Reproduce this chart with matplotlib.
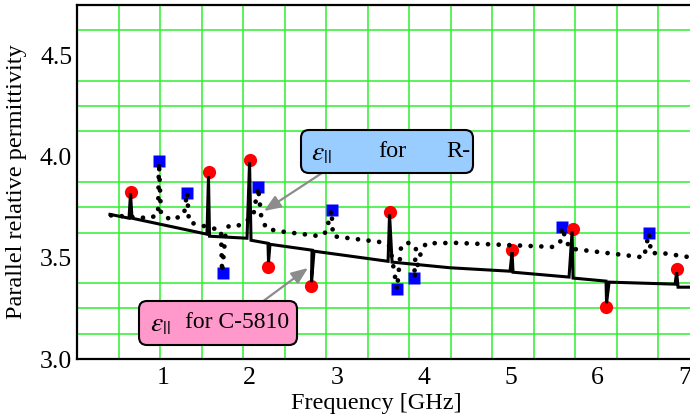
import numpy as np
import matplotlib
matplotlib.use("Agg")
import matplotlib.pyplot as plt
from matplotlib.patches import FancyBboxPatch, FancyArrowPatch
from matplotlib.transforms import IdentityTransform

plt.rcParams['font.family'] = ['Liberation Serif', 'DejaVu Serif']
plt.rcParams['mathtext.fontset'] = 'stix'

# ---------------- data ----------------
# measured C-5810 points (red circles)
c5810_f = [0.63, 1.532, 1.998, 2.21, 2.705, 3.607, 5.015, 5.716, 6.095, 6.906]
c5810_e = [3.824, 3.923, 3.982, 3.454, 3.36, 3.725, 3.538, 3.641, 3.257, 3.444]

# measured R- points (blue squares)
r_f = [0.957, 1.275, 1.697, 2.092, 2.943, 3.697, 3.892, 5.586, 6.586]
r_e = [3.978, 3.822, 3.426, 3.850, 3.739, 3.344, 3.401, 3.653, 3.625]

# model curve for C-5810 (solid)
model_c_f = [0.394, 0.613, 0.630, 0.647, 1.509, 1.526, 1.538, 1.969, 1.998, 2.015,
             2.210, 2.216, 2.233, 2.716, 2.710, 2.739, 3.590, 3.607, 3.636, 4.302,
             4.992, 5.015, 5.026, 5.670, 5.705, 5.716, 6.095, 6.101, 6.130, 6.889,
             6.906, 6.923, 7.061]
model_c_e = [3.715, 3.696, 3.819, 3.696, 3.617, 3.903, 3.607, 3.597, 3.972, 3.587,
             3.572, 3.479, 3.567, 3.538, 3.380, 3.533, 3.483, 3.715, 3.479, 3.451,
             3.434, 3.528, 3.429, 3.405, 3.631, 3.400, 3.385, 3.276, 3.380, 3.370,
             3.429, 3.355, 3.355]

# model curve for R- (dotted)
model_r_f = [0.406, 0.854, 0.946, 0.957, 0.980, 1.107, 1.245, 1.280, 1.302, 1.670,
             1.682, 1.728, 1.774, 1.889, 2.039, 2.096, 2.131, 2.188, 2.314, 2.808,
             2.877, 2.940, 2.957, 3.486, 3.613, 3.693, 3.739, 3.808, 3.911, 3.889,
             3.969, 4.026, 4.371, 5.486, 5.567, 5.590, 5.636, 5.682, 6.532, 6.586,
             6.613, 6.736, 7.061]
model_r_e = [3.710, 3.696, 3.715, 3.972, 3.715, 3.686, 3.715, 3.824, 3.676, 3.636,
             3.429, 3.646, 3.661, 3.661, 3.705, 3.849, 3.710, 3.646, 3.633, 3.607,
             3.628, 3.735, 3.607, 3.579, 3.557, 3.345, 3.553, 3.577, 3.553, 3.400,
             3.528, 3.572, 3.574, 3.554, 3.574, 3.651, 3.587, 3.546, 3.502, 3.622,
             3.523, 3.524, 3.503]

x_ticks = [1, 2, 3, 4, 5, 6, 7]
y_ticks = [3.0, 3.5, 4.0, 4.5]

# ---------------- figure ----------------
W, H = 690, 419
fig = plt.figure(figsize=(W / 100, H / 100), dpi=100)
ax = fig.add_axes([77 / W, (H - 359) / H, (690 - 77) / W, (359 - 5) / H])

ax.set_xlim(0.015, 7.06)
ax.set_ylim(3.0, 4.75)

# grid
grid_x = 0.492 + 0.4773 * np.arange(14)
ax.set_xticks(x_ticks)
ax.set_xticks(grid_x, minor=True)
ax.set_yticks(y_ticks)
ax.set_yticks(np.arange(3.0, 4.76, 0.125), minor=True)
ax.set_yticklabels([f"{v:.1f}" for v in y_ticks])
ax.grid(False)
ax.grid(True, which='minor', axis='both', color='#2ef02e', lw=1.1, zorder=0)
ax.tick_params(which='both', length=0, labelsize=18.5)
ax.tick_params(axis='x', pad=6)
ax.tick_params(axis='y', pad=3.5)
ax.set_axisbelow(True)

for s in ['left', 'top', 'bottom']:
    ax.spines[s].set_linewidth(1.6)
ax.spines['right'].set_visible(False)

# model lines
ax.plot(model_c_f, model_c_e, color='black', lw=2.2, solid_joinstyle='miter', zorder=3)
ax.plot(model_r_f, model_r_e, color='black', lw=3.4, linestyle=(0, (0.01, 2.25)),
        dash_capstyle='round', zorder=3)

# markers
ax.plot(c5810_f, c5810_e, 'o', color='red', markersize=9.5, mec='none', zorder=2.5)
ax.plot(r_f, r_e, 's', color='blue', markersize=8.5, mec='none', zorder=2)

ax.set_xlabel('Frequency [GHz]', fontsize=17.5)
ax.xaxis.set_label_coords(0.489, -0.097)
ax.set_ylabel('Parallel relative permittivity', fontsize=17.5, labelpad=9)

# ---------------- annotations (pixel positions) ----------------
ident = IdentityTransform()

def px(x, y):
    return x, H - y

def box(x0, y0, x1, y1, fc):
    p = FancyBboxPatch(px(x0, y1), x1 - x0, y1 - y0,
                       boxstyle="round,pad=0,rounding_size=8",
                       fc=fc, ec='black', lw=1.5, transform=ident, zorder=6)
    fig.add_artist(p)

def label(x, y, s, size, ha):
    fig.text(*px(x, y), s, fontsize=size, ha=ha, va='center', zorder=7,
             transform=ident)

def arrow(xs, ys, xe, ye):
    fig.add_artist(FancyArrowPatch(
        px(xs, ys), px(xe, ye), transform=ident,
        arrowstyle='-|>,head_length=10,head_width=4',
        color='#8c8c8c', lw=1.6, zorder=5, shrinkA=0, shrinkB=0))

arrow(322, 173, 264, 211)
arrow(262, 302, 308, 268)

box(301, 130, 473, 173, '#99ccff')
label(321, 154, r'$\varepsilon_{||}$', 20, 'center')
label(392, 151, 'for', 17.5, 'center')
label(470, 151, 'R-', 17.5, 'right')

box(139, 301, 297, 345, '#ff99cc')
label(160, 325, r'$\varepsilon_{||}$', 20, 'center')
label(185, 322, 'for C-5810', 17, 'left')

fig.savefig('out.png', dpi=100)
